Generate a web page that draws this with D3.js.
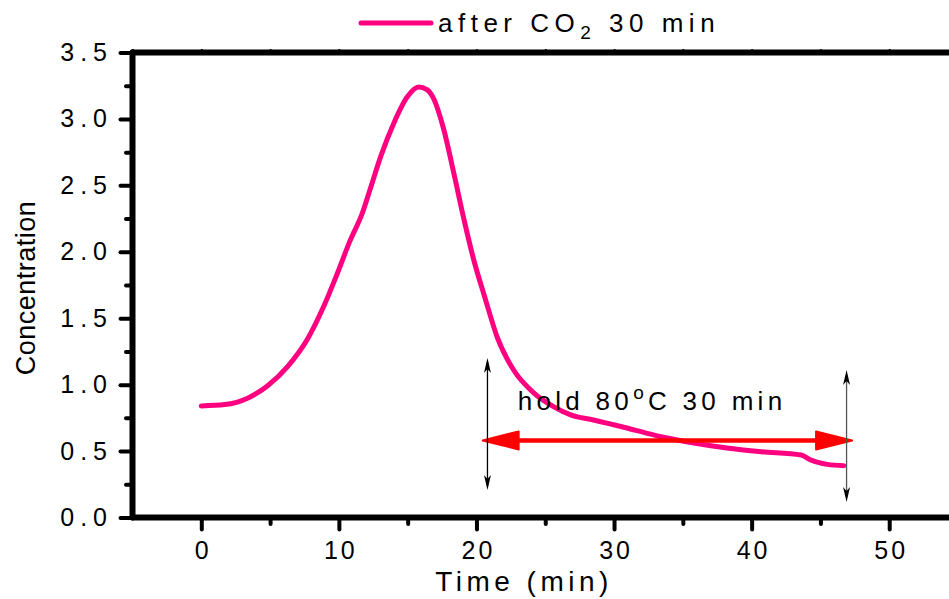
<!DOCTYPE html>
<html>
<head>
<meta charset="utf-8">
<script src="https://cdn.jsdelivr.net/npm/d3@7"></script>
<style>
  body { margin: 0; background: #fff; }
  text { font-family: "Liberation Sans", Arial, sans-serif; fill: #000; }
</style>
</head>
<body>
<div id="chart"></div>
<script>
// Curve: time (min) and concentration
var time = [0, 1.7, 3.4, 4.8, 6.3, 7.7, 8.9, 9.9, 10.8, 11.7, 12.3, 13.05, 14.0, 15.0, 15.8, 16.4, 16.9,
            17.6, 18.4, 19.1, 19.8, 20.6, 21.5, 22.7, 24.2, 25.6, 26.9, 28.5, 31.0, 33.4, 35.8, 38.2,
            40.7, 43.6, 44.3, 45.5, 46.7];
var conc = [0.84, 0.85, 0.90, 0.99, 1.14, 1.34, 1.59, 1.84, 2.08, 2.29, 2.48, 2.72, 2.97, 3.17, 3.24, 3.22, 3.15,
            2.93, 2.57, 2.24, 1.94, 1.66, 1.36, 1.11, 0.935, 0.835, 0.77, 0.734, 0.672, 0.608, 0.561, 0.523,
            0.495, 0.47, 0.433, 0.40, 0.39];

// Tick values
var xTicks = [0, 10, 20, 30, 40, 50];
var xMinor = [5, 15, 25, 35, 45];
var yTicks = [0, 0.5, 1.0, 1.5, 2.0, 2.5, 3.0, 3.5];
var yMinor = [0.25, 0.75, 1.25, 1.75, 2.25, 2.75, 3.25];
var topTicks = [-5, 0, 5, 10, 15, 20, 25, 30, 35, 40, 45, 50, 55];

// Annotation: hold period arrow and the two vertical markers
var holdSpan = [20.45, 47.3];
var holdLevel = 0.58;
var markTimes = [20.8, 46.9];
var markLow = [0.207, 0.117];
var markHigh = [1.2, 1.11];

var svgWidth = 949;
var svgHeight = 599;
var pink = "#ff0080";

var svg = d3.select("#chart")
  .append("svg")
  .attr("width", svgWidth)
  .attr("height", svgHeight);

var x = d3.scaleLinear().domain([-5, 55]).range([132.5, 958]);
var y = d3.scaleLinear().domain([0, 3.5]).range([517.5, 52.5]);

function styleTicks(g, w) {
  g.select(".domain").remove();
  g.selectAll(".tick line")
    .attr("stroke", "#000")
    .attr("stroke-width", w)
    .attr("stroke-linecap", "round");
}

// minor ticks first
svg.append("g")
  .attr("transform", "translate(132.5,0)")
  .call(d3.axisLeft(y).tickValues(yMinor).tickSize(6.5).tickFormat(""))
  .call(styleTicks, 4);
svg.append("g")
  .attr("transform", "translate(0,517.5)")
  .call(d3.axisBottom(x).tickValues(xMinor).tickSize(6.5).tickFormat(""))
  .call(styleTicks, 4);
svg.append("g")
  .attr("transform", "translate(0,52.5)")
  .call(d3.axisTop(x).tickValues(topTicks).tickSize(2).tickFormat(""))
  .call(styleTicks, 3);

// major ticks with labels
var yAxis = svg.append("g")
  .attr("transform", "translate(132.5,0)")
  .call(d3.axisLeft(y).tickValues(yTicks).tickSize(12).tickPadding(7.5).tickFormat(d3.format(".1f")))
  .call(styleTicks, 4);
yAxis.selectAll("text")
  .style("font-size", "25px")
  .style("letter-spacing", "6px")
  .attr("fill", "#000");

var xAxis = svg.append("g")
  .attr("transform", "translate(0,517.5)")
  .call(d3.axisBottom(x).tickValues(xTicks).tickSize(12).tickPadding(12).tickFormat(d3.format("d")))
  .call(styleTicks, 4);
xAxis.selectAll("text")
  .style("font-size", "25px")
  .style("letter-spacing", "3px")
  .attr("dx", 1.5)
  .attr("fill", "#000");

// frame
var frame = svg.append("g")
  .attr("stroke", "#000")
  .attr("stroke-width", 6)
  .attr("stroke-linecap", "round");
frame.append("line").attr("x1", x(-5)).attr("x2", x(-5)).attr("y1", y(0)).attr("y2", y(3.5));
frame.append("line").attr("x1", x(-5)).attr("x2", x(55)).attr("y1", y(0)).attr("y2", y(0));
frame.append("line").attr("x1", x(-5)).attr("x2", x(55)).attr("y1", y(3.5)).attr("y2", y(3.5));
frame.append("line").attr("x1", x(55)).attr("x2", x(55)).attr("y1", y(0)).attr("y2", y(3.5));

// data curve
var line = d3.line()
  .x(function (d, i) { return x(time[i]); })
  .y(function (d) { return y(d); })
  .curve(d3.curveMonotoneX);

svg.append("path")
  .datum(conc)
  .attr("d", line)
  .attr("fill", "none")
  .attr("stroke", pink)
  .attr("stroke-width", 5)
  .attr("stroke-linecap", "round")
  .attr("stroke-linejoin", "round");

// red double arrow for the hold period
var hx0 = x(holdSpan[0]), hx1 = x(holdSpan[1]), hy = y(holdLevel);
var headLen = 36, headHalf = 9;
svg.append("line")
  .attr("x1", hx0 + headLen - 2).attr("x2", hx1 - headLen + 2)
  .attr("y1", hy).attr("y2", hy)
  .attr("stroke", "#ff0000")
  .attr("stroke-width", 4.5);
svg.append("path")
  .attr("d", "M" + hx0 + "," + hy + "L" + (hx0 + headLen) + "," + (hy - headHalf) +
             "L" + (hx0 + headLen) + "," + (hy + headHalf) + "Z")
  .attr("fill", "#ff0000")
  .attr("stroke", "#ff0000")
  .attr("stroke-width", 2)
  .attr("stroke-linejoin", "round");
svg.append("path")
  .attr("d", "M" + hx1 + "," + hy + "L" + (hx1 - headLen) + "," + (hy - headHalf) +
             "L" + (hx1 - headLen) + "," + (hy + headHalf) + "Z")
  .attr("fill", "#ff0000")
  .attr("stroke", "#ff0000")
  .attr("stroke-width", 2)
  .attr("stroke-linejoin", "round");

// thin vertical double arrows
function stealth(px, py, dir) {
  // dir = -1 pointing up, 1 pointing down
  var l = 15, h = 3.5, n = 11;
  return "M" + px + "," + py +
    "L" + (px - h) + "," + (py - dir * l) +
    "L" + px + "," + (py - dir * n) +
    "L" + (px + h) + "," + (py - dir * l) + "Z";
}
markTimes.forEach(function (t, i) {
  var mx = x(t);
  var top = y(markHigh[i]), bot = y(markLow[i]);
  svg.append("line")
    .attr("x1", mx).attr("x2", mx)
    .attr("y1", top + 4).attr("y2", bot - 4)
    .attr("stroke", i === 0 ? "#000" : "#555")
    .attr("stroke-width", 1.3);
  svg.append("path").attr("d", stealth(mx, top, -1)).attr("fill", "#000");
  svg.append("path").attr("d", stealth(mx, bot, 1)).attr("fill", "#000");
});

// annotation text
var hold = svg.append("text")
  .attr("x", x(23.0))
  .attr("y", y(0.81))
  .style("font-size", "26px")
  .style("letter-spacing", "4.3px");
hold.append("tspan").text("hold 80");
hold.append("tspan").attr("dy", -11).style("font-size", "19px").text("o");
hold.append("tspan").attr("dy", 11).text("C 30 min");

// legend
svg.append("line")
  .attr("x1", 361).attr("x2", 431)
  .attr("y1", 23).attr("y2", 23)
  .attr("stroke", pink)
  .attr("stroke-width", 5)
  .attr("stroke-linecap", "round");
var leg = svg.append("text")
  .attr("x", 438)
  .attr("y", 32)
  .style("font-size", "26px")
  .style("letter-spacing", "5.5px");
leg.append("tspan").text("after CO");
leg.append("tspan").attr("dy", 7).style("font-size", "19px").text("2");
leg.append("tspan").attr("dy", -7).text(" 30 min");

// axis titles
svg.append("text")
  .attr("x", 524)
  .attr("y", 591)
  .attr("text-anchor", "middle")
  .style("font-size", "28px")
  .style("letter-spacing", "4.5px")
  .text("Time (min)");

svg.append("text")
  .attr("transform", "translate(35,288) rotate(-90)")
  .attr("text-anchor", "middle")
  .style("font-size", "27px")
  .style("letter-spacing", "0.5px")
  .text("Concentration");
</script>
</body>
</html>
